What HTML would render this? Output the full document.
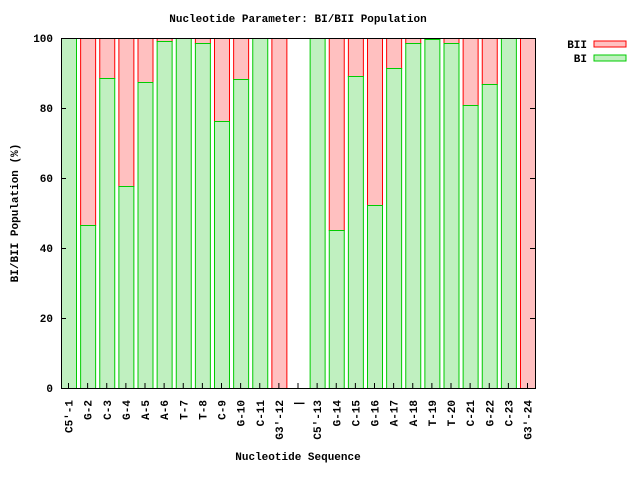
<!DOCTYPE html>
<html><head><meta charset="utf-8"><style>
body{margin:0;background:#fff}
svg text{font-family:"Liberation Mono","DejaVu Sans Mono",monospace;font-weight:bold;font-size:11px;fill:#000}
</style></head><body>
<svg width="640" height="480" xmlns="http://www.w3.org/2000/svg">
<rect width="640" height="480" fill="#fff"/>
<text x="298" y="22" text-anchor="middle">Nucleotide Parameter: BI/BII Population</text>
<g id="bars"></g>
<g text-anchor="end">
<text x="53" y="392">0</text><text x="53" y="322">20</text><text x="53" y="252">40</text>
<text x="53" y="182">60</text><text x="53" y="112">80</text><text x="53" y="42">100</text>
</g>
<text transform="translate(18,213) rotate(-90)" text-anchor="middle">BI/BII Population (%)</text>
<text x="298" y="460" text-anchor="middle">Nucleotide Sequence</text>
<text x="587" y="48" text-anchor="end">BII</text>
<rect x="594" y="41" width="32" height="6" fill="#ffc0c0" stroke="#f00" stroke-width="1"/>
<text x="587" y="62" text-anchor="end">BI</text>
<rect x="594" y="55" width="32" height="6" fill="#c0f0c0" stroke="#0c0" stroke-width="1"/>
<g id="labels"></g>
<rect x="61.5" y="38.5" width="474" height="350" fill="none" stroke="#000" stroke-width="1"/>
</svg>
<script>
var names=["C5'-1","G-2","C-3","G-4","A-5","A-6","T-7","T-8","C-9","G-10","C-11","G3'-12","|","C5'-13","G-14","C-15","G-16","A-17","A-18","T-19","T-20","C-21","G-22","C-23","G3'-24"];
var ys=[38,225,78,186,82,41,38,43,121,79,38,388,null,38,230,76,205,68,43,39,43,105,84,38,388];
var ns="http://www.w3.org/2000/svg",b=document.getElementById("bars"),l=document.getElementById("labels");
function el(t,a,p){var e=document.createElementNS(ns,t);for(var k in a)e.setAttribute(k,a[k]);p.appendChild(e);return e;}
for(var i=0;i<25;i++){
 var x=61+i*19.125,cx=x+7.5;
 if(ys[i]!==null){
  var y=ys[i];
  if(y>38) el("rect",{x:x+0.5,y:38.5,width:15,height:y-38,fill:"#ffc0c0",stroke:"#f00","stroke-width":1},b);
  if(y<388) el("rect",{x:x+0.5,y:y+0.5,width:15,height:388-y,fill:"#c0f0c0",stroke:"#0c0","stroke-width":1},b);
 }
 el("line",{x1:cx,y1:388,x2:cx,y2:383,stroke:"#000"},l);
 var t=el("text",{transform:"translate("+(cx+4)+",400) rotate(-90)","text-anchor":"end"},l);t.textContent=names[i];
}
[38,108,178,248,318].forEach(function(y){el("line",{x1:61,y1:y+0.5,x2:66,y2:y+0.5,stroke:"#000"},l);el("line",{x1:535,y1:y+0.5,x2:530,y2:y+0.5,stroke:"#000"},l);});
</script>
</body></html>
